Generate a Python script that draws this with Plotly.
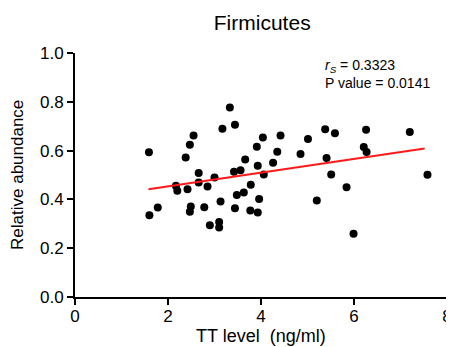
import plotly.graph_objects as go

# TT level (ng/ml)
tt_level = [1.59, 1.60, 1.78, 2.38, 2.47, 2.55, 2.17, 2.20, 2.42, 2.66,
            2.66, 2.85, 3.00, 2.49, 2.47, 2.78, 2.90, 3.10, 3.10, 3.13,
            3.17, 3.33, 3.44, 3.44, 3.42, 3.56, 3.66, 3.48, 3.63, 3.78,
            3.77, 3.91, 3.93, 3.96, 3.93, 4.04, 4.42, 4.35, 4.26, 4.06,
            5.01, 4.85, 5.38, 5.59, 5.41, 5.51, 5.20, 5.84, 5.99, 6.26,
            6.21, 6.27, 7.20, 7.58]
# Relative abundance
abundance = [0.593, 0.335, 0.367, 0.572, 0.624, 0.662, 0.456, 0.435, 0.442, 0.508,
             0.469, 0.453, 0.490, 0.371, 0.349, 0.368, 0.294, 0.307, 0.285, 0.391,
             0.690, 0.777, 0.706, 0.364, 0.513, 0.519, 0.564, 0.418, 0.428, 0.460,
             0.354, 0.616, 0.538, 0.402, 0.346, 0.654, 0.662, 0.595, 0.550, 0.502,
             0.648, 0.586, 0.687, 0.671, 0.570, 0.502, 0.396, 0.450, 0.259, 0.685,
             0.615, 0.594, 0.676, 0.501]

fit_x = [1.58, 7.52]
fit_y = [0.442, 0.609]

x_ticks = [0, 2, 4, 6, 8]
y_ticks = [0.0, 0.2, 0.4, 0.6, 0.8, 1.0]

FONT = "Arial, Liberation Sans, sans-serif"

fig = go.Figure()
fig.add_trace(go.Scatter(x=tt_level, y=abundance, mode="markers",
                         marker=dict(color="black", size=8), showlegend=False))
fig.add_trace(go.Scatter(x=fit_x, y=fit_y, mode="lines",
                         line=dict(color="#ff1a1a", width=2), showlegend=False))

fig.add_annotation(x=5.33, y=0.99, xref="x", yref="y", xanchor="left", yanchor="top",
                   align="left", showarrow=False,
                   text="<i>r<sub>S</sub></i> = 0.3323<br>P value = 0.0141",
                   font=dict(family=FONT, size=14, color="black"))

# axis titles placed as annotations for precise positioning
fig.add_annotation(x=0.5, y=-0.16, xref="paper", yref="paper", xanchor="center",
                   yanchor="middle", showarrow=False, text="TT level  (ng/ml)",
                   font=dict(family=FONT, size=18, color="black"))
fig.add_annotation(x=-0.156, y=0.5, xref="paper", yref="paper", xanchor="center",
                   yanchor="middle", showarrow=False, text="Relative abundance",
                   textangle=-90, font=dict(family=FONT, size=17, color="black"))

axis_common = dict(showgrid=False, zeroline=False, showline=True, linecolor="black",
                   linewidth=2, ticks="outside", ticklen=6, tickwidth=2, tickcolor="black",
                   automargin=False,
                   tickfont=dict(family=FONT, size=17, color="black"))

# the page body has an 8px default margin, so the figure is 8px smaller each way
fig.update_layout(
    width=446, height=339,
    margin=dict(l=67, r=7, t=45, b=50),
    paper_bgcolor="white", plot_bgcolor="white",
    title=dict(text="Firmicutes", x=0.57, xanchor="center", y=0.956, yanchor="middle",
               yref="container", font=dict(family=FONT, size=21, color="black")),
    xaxis=dict(range=[0, 8], tickvals=x_ticks, ticktext=[str(v) for v in x_ticks],
               ticklabelstandoff=-3, **axis_common),
    yaxis=dict(range=[0, 1], tickvals=y_ticks, ticktext=[f"{v:.1f}" for v in y_ticks],
               **axis_common),
)

fig.write_html("out.html")
